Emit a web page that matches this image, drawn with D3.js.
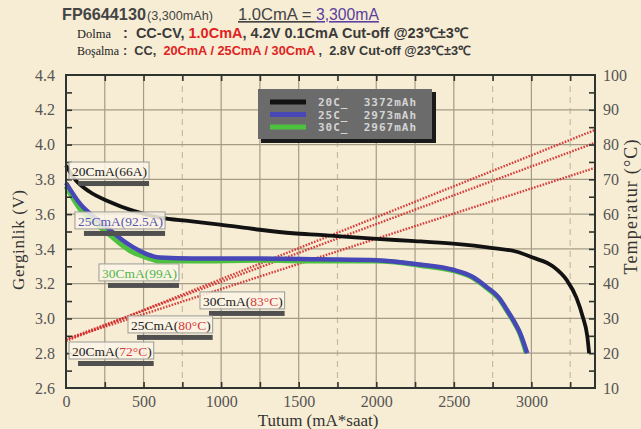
<!DOCTYPE html>
<html>
<head>
<meta charset="utf-8">
<script src="https://cdn.jsdelivr.net/npm/d3@7"></script>
<style>
	body { margin: 0; background: #f7edd4; }
	svg { display: block; }
</style>
</head>
<body>
<div id="chart"></div>
<script>
// Discharge curves (capacity mAh, voltage V)
const cap20  = [0, 58, 150, 283, 430, 606, 800, 992, 1250, 1463, 1637, 2004, 2250, 2494, 2751, 2900, 3009, 3138, 3228, 3290, 3331, 3360, 3372];
const volt20 = [3.88, 3.80, 3.73, 3.67, 3.62, 3.58, 3.56, 3.54, 3.51, 3.49, 3.48, 3.457, 3.445, 3.43, 3.405, 3.385, 3.35, 3.30, 3.22, 3.12, 3.01, 2.90, 2.80];
const cap25  = [0, 90, 200, 283, 350, 432, 520, 606, 818, 1250, 1637, 2004, 2281, 2494, 2620, 2713, 2790, 2842, 2890, 2925, 2973];
const volt25 = [3.78, 3.66, 3.57, 3.51, 3.46, 3.41, 3.37, 3.35, 3.345, 3.345, 3.34, 3.335, 3.31, 3.28, 3.24, 3.18, 3.12, 3.05, 2.98, 2.92, 2.80];
const cap30  = [0, 90, 200, 283, 350, 432, 520, 606, 818, 1250, 1637, 2004, 2281, 2494, 2620, 2713, 2790, 2842, 2890, 2925, 2967];
const volt30 = [3.76, 3.63, 3.54, 3.48, 3.43, 3.38, 3.35, 3.33, 3.33, 3.335, 3.33, 3.33, 3.305, 3.275, 3.235, 3.175, 3.115, 3.045, 2.975, 2.915, 2.80];

// Temperature lines (right axis, °C)
const tempCap = [0, 3410];
const temp20  = [24, 73.3];
const temp25  = [24, 80.5];
const temp30  = [23.5, 84.2];

// Axis ticks
const xLabels = [0, 500, 1000, 1500, 2000, 2500, 3000];
const yLabels = [2.6, 2.8, 3.0, 3.2, 3.4, 3.6, 3.8, 4.0, 4.2, 4.4];
const tLabels = [10, 20, 30, 40, 50, 60, 70, 80, 90, 100];

// Legend
const legendNames = ["20C_  3372mAh", "25C_  2973mAh", "30C_  2967mAh"];

const W = 641, H = 429;
const colBlack = "#121212", colBlue = "#4747b8", colGreen = "#4ec23f", colRed = "#d42a2a";
const serif = "'Liberation Serif', 'Times New Roman', serif";
const sans = "'Liberation Sans', Arial, sans-serif";

const svg = d3.select("#chart").append("svg").attr("width", W).attr("height", H);
svg.append("rect").attr("width", W).attr("height", H).attr("fill", "#f7edd4");

const x  = d3.scaleLinear([0, 3410], [66, 595]);
const y  = d3.scaleLinear([2.6, 4.4], [388, 75]);
const yT = d3.scaleLinear([10, 100], [388, 75]);

// Grid
const grid = svg.append("g").attr("stroke", "#a59c86").attr("stroke-width", 1.2);
const faint = [750, 1750, 2750, 3250];
grid.selectAll("line.gx").data(d3.range(250, 3400, 250)).join("line")
	.attr("x1", d => x(d)).attr("x2", d => x(d))
	.attr("y1", y(4.4)).attr("y2", y(2.6))
	.attr("stroke-dasharray", d => faint.includes(d) ? "6,5" : null)
	.attr("opacity", d => faint.includes(d) ? 0.6 : 1);
grid.selectAll("line.gy").data(yLabels.slice(1, -1)).join("line")
	.attr("x1", x(0)).attr("x2", x(3410))
	.attr("y1", d => y(d)).attr("y2", d => y(d));

// Lines
const plot = svg.append("g");
const volt = (caps, vs) => d3.line().curve(d3.curveMonotoneX)
	.x((d, i) => x(caps[i])).y((d, i) => y(vs[i]))(vs);
const tline = (caps, ts) => d3.line().x((d, i) => x(caps[i])).y((d, i) => yT(ts[i]))(ts);

[temp20, temp25, temp30].forEach(t => {
	plot.append("path").attr("d", tline(tempCap, t))
		.attr("fill", "none").attr("stroke", colRed).attr("stroke-width", 2.4)
		.attr("stroke-dasharray", "1.6,1.4").attr("opacity", 0.9);
});

plot.append("path").attr("d", volt(cap30, volt30))
	.attr("fill", "none").attr("stroke", colGreen).attr("stroke-width", 5);
plot.append("path").attr("d", volt(cap25, volt25))
	.attr("fill", "none").attr("stroke", colBlue).attr("stroke-width", 4.5);
plot.append("path").attr("d", volt(cap20, volt20))
	.attr("fill", "none").attr("stroke", colBlack).attr("stroke-width", 3.8);

// Frame
svg.append("rect").attr("x", x(0)).attr("y", y(4.4))
	.attr("width", x(3410) - x(0)).attr("height", y(2.6) - y(4.4))
	.attr("fill", "none").attr("stroke", "#2e3530").attr("stroke-width", 2);

// Axes
function styleAxis(g, size) {
	g.select(".domain").remove();
	g.selectAll("line").attr("stroke", "#2e3530").attr("stroke-width", 1.6);
	g.selectAll("text").attr("font-family", serif).attr("font-size", size).attr("fill", "#555");
}
const minorX = d3.range(250, 3400, 250);
svg.append("g").attr("transform", `translate(0,${y(2.6)})`)
	.call(d3.axisBottom(x).tickValues(xLabels).tickSize(0).tickPadding(8).tickFormat(d3.format("d")))
	.call(g => styleAxis(g, 16));
svg.append("g").attr("transform", `translate(0,${y(2.6)})`)
	.call(d3.axisBottom(x).tickValues(minorX).tickSize(-6).tickFormat(""))
	.call(g => styleAxis(g, 16));
svg.append("g").attr("transform", `translate(0,${y(4.4)})`)
	.call(d3.axisTop(x).tickValues(minorX).tickSize(-6).tickFormat(""))
	.call(g => styleAxis(g, 16));
svg.append("g").attr("transform", `translate(${x(0)},0)`)
	.call(d3.axisLeft(y).tickValues(yLabels).tickSize(0).tickPadding(11).tickFormat(d3.format(".1f")))
	.call(g => styleAxis(g, 16));
svg.append("g").attr("transform", `translate(${x(0)},0)`)
	.call(d3.axisLeft(y).tickValues(d3.range(2.7, 4.35, 0.1)).tickSize(-6).tickFormat(""))
	.call(g => styleAxis(g, 16));
svg.append("g").attr("transform", `translate(${x(3410)},0)`)
	.call(d3.axisRight(yT).tickValues(tLabels).tickSize(0).tickPadding(8))
	.call(g => styleAxis(g, 16));
svg.append("g").attr("transform", `translate(${x(3410)},0)`)
	.call(d3.axisRight(yT).tickValues(d3.range(15, 100, 5)).tickSize(-6).tickFormat(""))
	.call(g => styleAxis(g, 16));

// Axis titles
svg.append("text").attr("x", 318).attr("y", 426).attr("text-anchor", "middle")
	.attr("font-family", serif).attr("font-size", 17).attr("fill", "#333")
	.text("Tutum (mA*saat)");
svg.append("text").attr("transform", "translate(24,240) rotate(-90)").attr("text-anchor", "middle")
	.attr("font-family", serif).attr("font-size", 17).attr("fill", "#333")
	.attr("textLength", 100).text("Gerginlik (V)");
svg.append("text").attr("transform", "translate(637,207) rotate(-90)").attr("text-anchor", "middle")
	.attr("font-family", serif).attr("font-size", 18).attr("fill", "#333")
	.attr("textLength", 135).text("Temperatur (°C)");

// Annotations: [parts, cap, volt]
const notes = [
	[[["20CmA(66A)", "#222"]], 39, 3.819],
	[[["25CmA(92.5A)", "#5656b0"]], 77, 3.532],
	[[["30CmA(99A)", "#52b648"]], 232, 3.233],
	[[["30CmA(", "#222"], ["83°C", "#d83a3a"], [")", "#222"]], 883, 3.072],
	[[["25CmA(", "#222"], ["80°C", "#d83a3a"], [")", "#222"]], 419, 2.934],
	[[["20CmA(", "#222"], ["72°C", "#d83a3a"], [")", "#222"]], 39, 2.784]
];
const noteG = svg.append("g");
notes.forEach(([parts, c, v]) => {
	const g = noteG.append("g").attr("transform", `translate(${x(c)},${y(v)})`);
	const box = g.append("rect");
	const bar = g.append("rect");
	const t = g.append("text").attr("font-family", serif).attr("font-size", 13.5);
	parts.forEach(([s, col]) => t.append("tspan").attr("fill", col).text(s));
	const w = t.node().getComputedTextLength();
	box.attr("x", -3).attr("y", -14).attr("width", w + 5).attr("height", 17)
		.attr("fill", "#fbf5e8").attr("fill-opacity", 0.85)
		.attr("stroke", "#9a9a94").attr("stroke-width", 1);
	bar.attr("x", 6).attr("y", 5).attr("width", w - 4).attr("height", 5).attr("fill", "#505050");
});

// Legend
const lg = svg.append("g").attr("transform", "translate(258,89)");
lg.append("rect").attr("x", 3).attr("y", 3).attr("width", 175).attr("height", 51).attr("fill", "#1a1a1a");
lg.append("rect").attr("width", 174).attr("height", 50).attr("fill", "#6b6b6b");
const lcol = [colBlack, colBlue, colGreen];
legendNames.forEach((n, i) => {
	lg.append("line").attr("x1", 12).attr("x2", 48).attr("y1", 13 + i * 12.5).attr("y2", 13 + i * 12.5)
		.attr("stroke", lcol[i]).attr("stroke-width", 5);
	lg.append("text").attr("x", 60).attr("y", 17 + i * 12.5)
		.attr("font-family", "'DejaVu Sans Mono', monospace").attr("font-weight", "bold")
		.attr("font-size", 11).attr("letter-spacing", 1).attr("fill", "#d4d4d4")
		.style("white-space", "pre").text(n);
});

// Title block
const head = svg.append("g").attr("font-family", sans).attr("fill", "#444");
// shrink or grow a text's font so that it spans a given width
function fit(t, width, size) {
	const w = t.node().getComputedTextLength();
	t.attr("font-size", size * width / w);
	return t;
}
fit(head.append("text").attr("x", 62).attr("y", 20).attr("font-size", 16).attr("font-weight", 600)
	.text("FP6644130"), 84, 16);
fit(head.append("text").attr("x", 147).attr("y", 20).attr("font-size", 13)
	.text("(3,300mAh)"), 66, 13);
fit(head.append("text").attr("x", 238).attr("y", 20).attr("font-size", 13)
	.style("text-decoration", "underline").style("white-space", "pre").text("1.0CmA = "), 78, 13);
fit(head.append("text").attr("x", 316).attr("y", 20).attr("font-size", 13).attr("fill", "#5b3f9e")
	.style("text-decoration", "underline").text("3,300mA"), 63, 13);

function infoLine(yy, label, labelLen, parts, width) {
	fit(head.append("text").attr("x", 77).attr("y", yy).attr("font-family", serif).attr("font-size", 11)
		.attr("fill", "#222").text(label), labelLen, 11);
	const t = head.append("text").attr("x", 123).attr("y", yy).attr("font-size", 13).attr("font-weight", "bold")
		.attr("fill", "#3a3a3a").style("white-space", "pre");
	parts.forEach(([s, col]) => t.append("tspan").attr("fill", col).text(s));
	fit(t, width, 13);
}
infoLine(38, "Dolma", 34, [[":  CC-CV, ", "#3a3a3a"], ["1.0CmA", "#e02222"], [", 4.2V 0.1CmA Cut-off @23℃±3℃", "#3a3a3a"]], 346);
infoLine(55, "Boşalma", 42, [[":  CC,  ", "#3a3a3a"], ["20CmA / 25CmA / 30CmA", "#e02222"], [" ,  2.8V Cut-off @23℃±3℃", "#3a3a3a"]], 348);
</script>
</body>
</html>
